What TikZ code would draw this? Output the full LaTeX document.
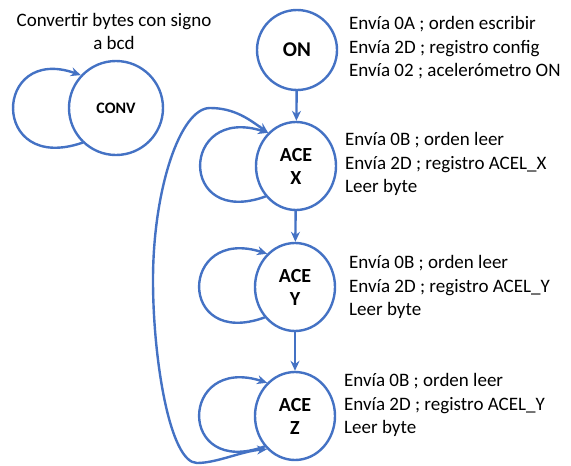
\documentclass[tikz,border=0pt]{standalone}
\usepackage{fontspec}
\setmainfont{Carlito}
\usetikzlibrary{arrows.meta,positioning,shapes.geometric}
\definecolor{stateblue}{HTML}{4472C4}

\begin{document}
\begin{tikzpicture}[line cap=round,line join=round,x=1pt,y=-1pt,
  >={Stealth[length=10pt,width=9pt]},
  state/.style={circle,draw=stateblue,line width=2.4pt,inner sep=0pt},
  acestate/.style={ellipse,draw=stateblue,line width=2.4pt,inner sep=0pt,minimum width=80pt,minimum height=88pt,align=center,font=\fontsize{20}{23}\selectfont\bfseries},
  trans/.style={draw=stateblue,line width=2.4pt},
  info/.style={anchor=west,align=left,inner sep=0pt,font=\fontsize{19}{23.5}\selectfont}]
\useasboundingbox (0,0) rectangle (571,466);

% estados
\node[state,minimum size=94pt,font=\fontsize{16}{18}\selectfont\bfseries] (conv) at (116,108) {CONV};
\node[state,minimum size=80pt,font=\fontsize{21}{24}\selectfont\bfseries] (on) at (297,50) {ON};
\node[acestate] (acex) at (296,166) {ACE\\X};
\node[acestate] (acey) at (295,287) {ACE\\Y};
\node[acestate] (acez) at (295,416) {ACE\\Z};

% textos
\node[align=center,inner sep=0pt,font=\fontsize{19}{23}\selectfont] (titulo) at (114,31) {Convertir bytes con signo\\a bcd};
\node[info] (txton) at (349,48) {Envía 0A ; orden escribir\\Envía 2D ; registro config\\Envía 02 ; acelerómetro ON};
\node[info] (txtx) at (345,164) {Envía 0B ; orden leer\\Envía 2D ; registro ACEL\_X\\Leer byte};
\node[info] (txty) at (349,287) {Envía 0B ; orden leer\\Envía 2D ; registro ACEL\_Y\\Leer byte};
\node[info] (txtz) at (344,405) {Envía 0B ; orden leer\\Envía 2D ; registro ACEL\_Y\\Leer byte};

% transiciones
\draw[trans,->] (on) -- (acex);
\draw[trans,->] (acex) -- (acey);
\draw[trans,->] (acey) -- (acez);

% lazos
\foreach \s in {acex,acey,acez}
  \draw[trans,->] (\s.225) .. controls +(-88,32) and +(-88,-28) .. (\s.130);
\draw[trans,->] (conv.226) .. controls +(-93,32) and +(-88,-31) .. (conv.137);

% vuelta de ACE Z a ACE X
\draw[trans,<->] (acez.230) .. controls (242,451) and (217,463) .. (197,463)
  .. controls (170,463) and (153,360) .. (153,280)
  .. controls (153,190) and (180,108) .. (210,108)
  .. controls (235,108) and (250,120) .. (acex.130);
\end{tikzpicture}
\end{document}
